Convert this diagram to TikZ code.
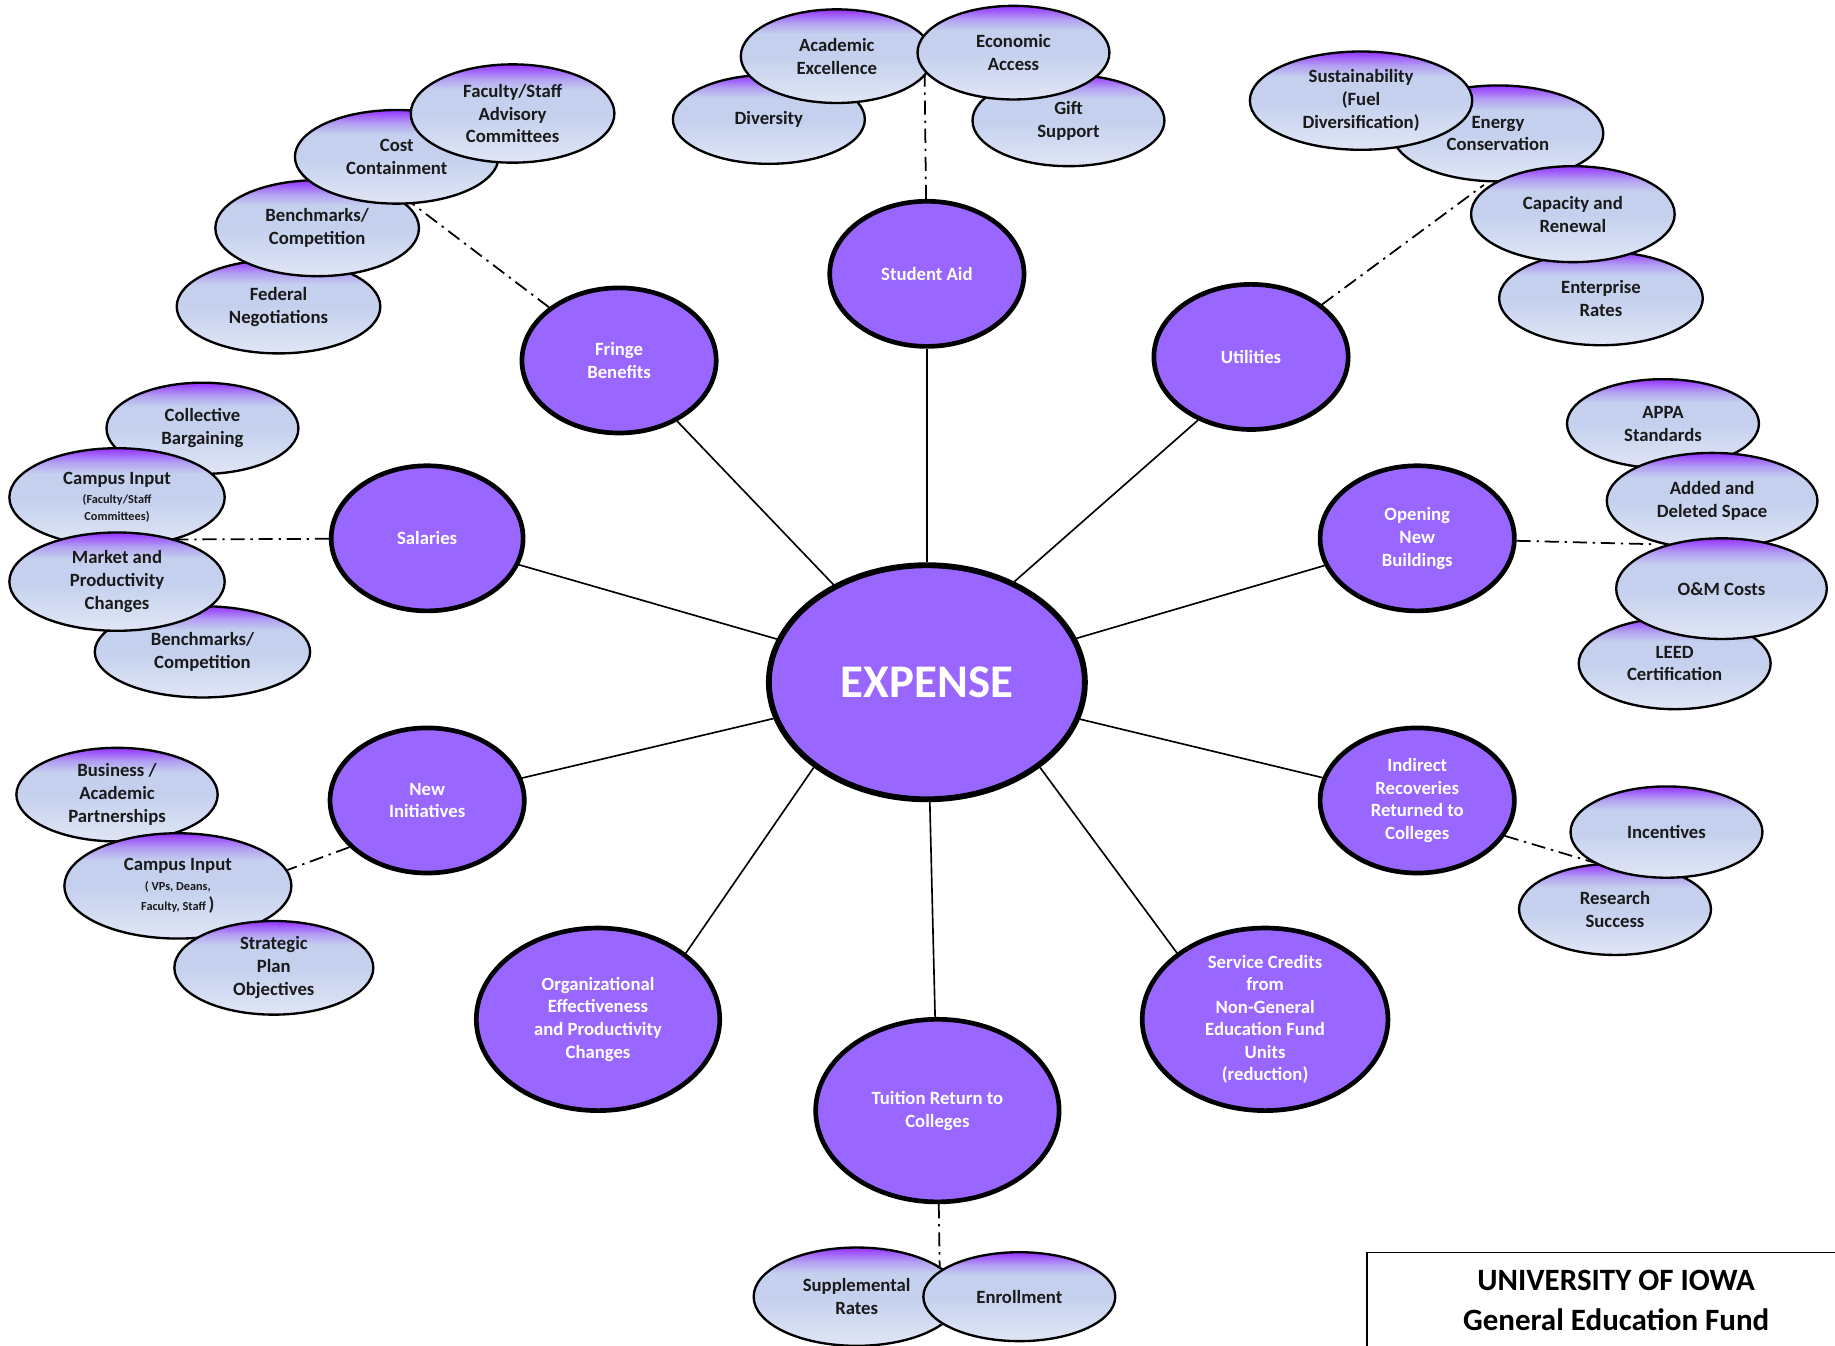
\documentclass[tikz,border=0pt]{standalone}
\usepackage{fontspec}
\setmainfont{Carlito}
\usetikzlibrary{shapes.geometric}
\pgfdeclarelayer{bg}
\pgfsetlayers{bg,main}
\definecolor{mainv}{HTML}{9966FF}
\definecolor{subtop}{HTML}{9633FF}
\definecolor{sublav}{HTML}{B29EF2}
\definecolor{submid}{HTML}{C4D0EE}
\definecolor{subbot}{HTML}{E0E6F5}
\definecolor{subtext}{HTML}{1A1A1A}
\pgfdeclareverticalshading{subshade}{100bp}{color(0bp)=(subbot); color(25bp)=(subbot); color(50bp)=(submid); color(62bp)=(submid); color(68bp)=(sublav); color(75bp)=(subtop); color(100bp)=(subtop)}
\tikzset{
  mainell/.style={ellipse, draw=black, line width=4pt, fill=mainv, text=white,
    font=\bfseries\fontsize{16}{19.5}\selectfont, align=center, inner sep=0pt},
  ptext/.style={text=white, font=\bfseries\fontsize{16}{19.2}\selectfont, align=center, inner sep=0pt},
  subell/.style={ellipse, draw=black, line width=2pt, shading=subshade, text=subtext,
    font=\bfseries\fontsize{16}{19.5}\selectfont, align=center, inner sep=0pt},
  spoke/.style={line width=1.4pt},
  dd/.style={line width=1.5pt, dash pattern=on 12pt off 5pt on 2pt off 5pt},
  sz/.style 2 args={minimum width=#1pt, minimum height=#2pt},
}
\newcommand{\smalltxt}[1]{{\fontsize{10.5}{12}\selectfont #1}}
\begin{document}
\begin{tikzpicture}[x=1pt,y=-1pt]
\useasboundingbox (0,0) rectangle (1568,1150);

% ---- central and primary nodes
\node[mainell, line width=5pt, sz={270}{200}, font=\bfseries\fontsize{40}{48}\selectfont] (exp) at (792,583) {EXPENSE};
\node[mainell, sz={166}{124}] (stud) at (792,234) {Student Aid};
\node[mainell, sz={166}{124}] (fringe) at (529,308) {Fringe\\Benefits};
\node[mainell, sz={166}{124}] (util) at (1069,305) {Utilities};
\node[mainell, sz={164}{124}] (sal) at (365,460) {Salaries};
\node[mainell, sz={166}{124}] (onb) at (1211,460) {Opening\\New\\Buildings};
\node[mainell, sz={166}{124}] (ni) at (365,684) {New\\Initiatives};
\node[mainell, sz={166}{124}] (ind) at (1211,684) {Indirect\\Recoveries\\Returned to\\Colleges};
\node[mainell, sz={208}{156}] (org) at (511,871) {Organizational\\Effectiveness\\and Productivity\\Changes};
\node[mainell, sz={208}{156}] (tuit) at (801,949) {Tuition Return to\\Colleges};
\node[mainell, sz={210}{156}, label={[ptext]center:{Service Credits\\from\\Non-General\\Education Fund\\Units\\(reduction)}}] (svc) at (1081,871) {};

% ---- Student Aid group
\node[subell, sz={164}{76}] (div) at (657,102) {Diversity};
\node[subell, sz={164}{80}] (acad) at (715,48) {Academic\\Excellence};
\node[subell, sz={164}{78}] (gift) at (913,103) {Gift\\Support};
\node[subell, sz={164}{80}] (econ) at (866,45) {Economic\\Access};

% ---- Fringe Benefits group
\node[subell, sz={174}{80}] (fed) at (238,262) {Federal\\Negotiations};
\node[subell, sz={174}{82}] (bencha) at (271,195) {Benchmarks/\\Competition};
\node[subell, sz={174}{80}] (cost) at (339,134) {Cost\\Containment};
\node[subell, sz={174}{84}] (fac) at (438,97) {Faculty/Staff\\Advisory\\Committees};

% ---- Utilities group
\node[subell, sz={180}{82}] (energy) at (1280,114) {Energy\\Conservation};
\node[subell, sz={190}{84}] (sust) at (1163,86) {Sustainability\\(Fuel\\Diversification)};
\node[subell, sz={174}{80}] (ent) at (1368,255) {Enterprise\\Rates};
\node[subell, sz={174}{82}] (cap) at (1344,183) {Capacity and\\Renewal};

% ---- Salaries group
\node[subell, sz={164}{78}] (coll) at (173,366) {Collective\\Bargaining};
\node[subell, sz={184}{84}] (campa) at (100,425) {Campus Input\\[-3pt]\smalltxt{(Faculty/Staff}\\[-5pt]\smalltxt{Committees)}};
\node[subell, sz={184}{78}] (benchb) at (173,557) {Benchmarks/\\Competition};
\node[subell, sz={184}{84}] (market) at (100,497) {Market and\\Productivity\\Changes};

% ---- Opening New Buildings group
\node[subell, sz={164}{76}] (appa) at (1421,362) {APPA\\Standards};
\node[subell, sz={180}{82}] (added) at (1463,428) {Added and\\Deleted Space};
\node[subell, sz={164}{78}] (leed) at (1431,567) {LEED\\Certification};
\node[subell, sz={180}{86}] (om) at (1471,503) {O\&M Costs};

% ---- Indirect Recoveries group
\node[subell, sz={164}{78}] (res) at (1380,777) {Research\\Success};
\node[subell, sz={164}{78}] (inc) at (1424,711) {Incentives};

% ---- New Initiatives group
\node[subell, sz={172}{80}] (bus) at (100,679) {Business /\\Academic\\Partnerships};
\node[subell, sz={194}{90}] (campb) at (152,757) {Campus Input\\[-3pt]\smalltxt{( VPs, Deans,}\\[-2pt]\smalltxt{Faculty, Staff }{\fontsize{16}{16}\selectfont)}};
\node[subell, sz={170}{80}] (strat) at (234,827) {Strategic\\Plan\\Objectives};

% ---- Tuition group
\node[subell, sz={176}{84}] (supp) at (732,1108) {Supplemental\\Rates};
\node[subell, sz={164}{76}] (enr) at (871,1108) {Enrollment};

% ---- title
\node[font=\bfseries\fontsize{26.5}{34}\selectfont, align=center, text=black] (title) at (1381,1111) {UNIVERSITY OF IOWA\\General Education Fund};
\draw[line width=1.2pt] (1168,1170) -- (1168,1070) -- (1600,1070);

% ---- end points of the dash-dot connectors
\coordinate (sa-end) at (790,56);
\coordinate (fr-end) at (347,170);
\coordinate (ut-end) at (1268,158);
\coordinate (sal-end) at (150,461);
\coordinate (onb-end) at (1412,465);
\coordinate (ind-end) at (1362,737);
\coordinate (ni-end) at (244,744);
\coordinate (tu-end) at (803,1086);

\begin{pgfonlayer}{bg}
\foreach \n in {stud,fringe,sal,onb,ni,ind,tuit}
  \draw[spoke] (exp) -- (\n);
\draw[spoke] (exp.49) -- (util.-130);
\draw[spoke] (exp.-143) -- (org.37);
\draw[spoke] (exp.-37) -- (svc.143);
\draw[dd] (stud) -- (sa-end);
\draw[dd] (fringe) -- (fr-end);
\draw[dd] (util) -- (ut-end);
\draw[dd] (sal) -- (sal-end);
\draw[dd] (onb) -- (onb-end);
\draw[dd] (ind.-22) -- (ind-end);
\draw[dd] (ni.211) -- (ni-end);
\draw[dd] (tuit) -- (tu-end);
\end{pgfonlayer}
\end{tikzpicture}
\end{document}
